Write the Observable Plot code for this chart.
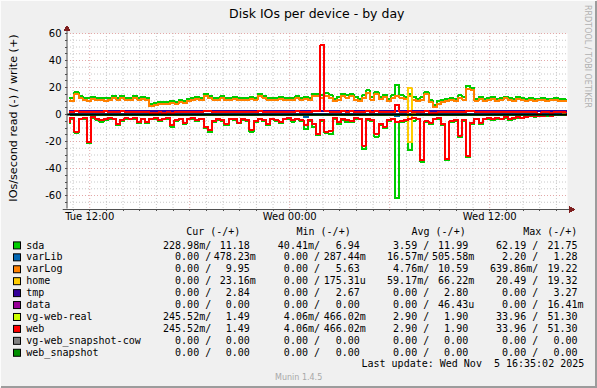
<!DOCTYPE html>
<html><head><meta charset="utf-8">
<script src="https://cdn.jsdelivr.net/npm/d3@7"></script>
<script src="https://cdn.jsdelivr.net/npm/@observablehq/plot@0.6"></script>
<style>
html,body{margin:0;padding:0;background:#F0F0F0;}
#chart{position:relative;width:597px;height:388px;overflow:hidden;background:#F0F0F0;}
#chart svg{display:block;}
#chart svg path{shape-rendering:crispEdges;}
</style></head><body><div id="chart"></div>
<script>
// ---------- data (15-minute samples, first sample Tue 2025-11-04 10:50) ----------
const sampleStart = "2025-11-04T10:50:00Z";
const sampleStepMinutes = 15;

const sdaWrite = [
12.5,12.0,16.5,13.5,12.5,12.0,13.0,12.0,12.5,12.0,
12.0,13.5,12.5,14.0,12.5,12.0,14.0,12.5,13.0,12.0,
7.5,8.5,9.0,9.5,9.0,10.0,9.5,10.5,10.0,11.5,
12.5,13.0,12.0,15.5,14.0,12.5,12.0,13.5,12.0,12.5,
13.0,12.0,12.5,12.0,13.0,12.5,15.5,14.0,12.5,12.0,
12.5,13.0,12.0,12.5,12.0,13.5,12.5,13.0,12.0,15.5,
15.3,14.1,15.8,14.1,11.6,12.8,15.3,14.1,15.3,12.8,
11.6,14.1,17.8,12.8,16.5,13.3,14.8,11.6,14.1,21.75,
14.1,13.3,15.3,12.8,11.6,12.8,16.5,10.4,6.94,9.9,
10.9,11.6,12.3,11.6,14.1,12.8,21.0,20.0,11.6,12.8,
11.6,12.3,12.8,11.6,12.3,13.3,12.3,11.6,12.8,12.3,
11.6,12.3,11.6,11.6,12.3,11.6,11.6,12.3,11.6,11.18];

const sdaRead = [
6.3,3.2,13.8,3.5,3.4,21.2,2.6,3.9,5.5,4.0,
3.3,3.6,8.1,4.5,3.3,3.6,3.2,6.4,3.5,6.2,
3.7,3.0,4.8,3.5,3.2,9.0,4.6,3.6,6.8,3.7,
3.0,4.9,3.6,10.0,13.0,5.6,3.8,4.6,8.1,3.6,
4.3,6.6,3.8,4.6,13.0,5.8,3.6,4.8,7.8,3.5,
4.9,6.2,3.6,3.2,5.2,3.7,4.8,10.6,4.6,9.4,
15.0,4.8,13.8,14.3,3.2,7.0,3.8,5.7,5.8,3.1,
3.7,25.4,3.8,4.9,16.3,7.8,10.1,4.9,3.6,62.19,
5.8,4.6,26.5,4.5,3.7,35.0,5.8,6.9,3.6,3.1,
8.0,34.0,5.8,4.7,16.5,4.8,31.6,6.8,3.6,7.0,
3.6,3.1,4.1,3.0,3.5,2.5,4.0,3.0,2.4,2.9,
1.9,1.3,1.5,1.0,1.2,0.8,0.9,0.6,0.5,0.23];

const varLogWrite = [
10.5,10.0,15.0,12.0,10.5,10.0,11.5,10.5,11.0,10.0,
10.5,12.0,11.0,12.5,11.0,10.5,12.5,11.0,11.5,10.5,
6.0,7.0,7.5,8.0,7.5,8.5,8.0,9.0,8.5,10.0,
11.0,11.5,10.5,14.0,12.5,11.0,10.5,12.0,10.5,11.0,
11.5,10.5,11.0,10.5,11.5,11.0,14.0,12.5,11.0,10.5,
11.0,11.5,10.5,11.0,10.5,12.0,11.0,11.5,10.5,14.0,
13.5,12.5,14.0,12.5,10.0,11.0,13.5,12.5,13.5,11.0,
10.0,12.0,16.0,11.0,15.0,11.5,13.0,10.0,12.0,14.0,
12.5,11.5,14.0,11.0,10.0,11.0,15.0,9.0,5.63,8.0,
9.5,10.0,11.0,10.0,12.5,11.0,19.22,18.5,10.0,11.5,
10.0,11.0,11.5,10.0,11.0,12.0,11.0,10.0,11.5,11.0,
10.0,11.0,10.0,10.5,11.0,10.0,10.5,11.0,10.0,9.95];

const varLogRead = [
0,0,0,0,0,0,0,0,0,0, 0,0,0,0,0,0,0,0,0,0, 0,0,0,0,0,0,0,0,0,0,
0,0,0,0,0,0,0,0,0,0, 0,0,0,0,0,0,0,0,0,0, 0,0,0,0,0,0,0,0,0,0,
0,0,0,0,0,0,0,0,0,0, 0,0,0,0,0,0,0,0,0,0, 0,0,0.64,0,0,0,0,0,0,0,
0,0,0,0,0,0,0,0,0,0, 0,0,0,0,0,0,0,0,0,0, 0,0,0,0,0,0,0,0,0,0];

const webWrite = [
2.0,1.8,2.5,1.9,1.6,2.2,1.8,2.0,1.7,2.3,
1.9,2.1,1.6,2.4,1.8,2.0,1.7,2.2,1.9,1.6,
1.4,1.2,1.5,1.3,1.6,1.4,1.8,1.5,1.7,1.9,
2.0,2.2,1.8,2.6,2.3,1.9,2.0,2.1,1.8,2.0,
2.2,1.8,2.0,1.9,2.1,2.0,2.5,2.2,1.9,2.0,
2.1,2.0,1.8,2.2,1.9,2.3,2.0,2.1,1.9,2.6,
2.4,51.3,2.5,2.2,1.8,2.0,2.4,2.1,2.3,1.9,
1.8,2.2,2.8,1.9,2.5,2.0,2.2,1.8,2.1,7.0,
2.1,2.0,2.3,1.9,1.7,2.0,2.5,1.4,1.2,1.5,
1.7,1.8,1.9,1.8,2.1,1.9,2.9,2.7,1.8,1.9,
1.7,1.8,1.9,1.6,1.8,1.9,1.7,1.6,1.8,1.7,
1.5,1.6,1.5,0.47,1.6,1.5,1.4,1.6,1.5,1.49];

const webRead = [
5.7,2.5,13.0,3.0,2.5,20.5,2.0,3.0,4.4,3.5,
2.5,3.0,7.0,4.0,2.5,3.0,2.5,5.5,3.0,5.5,
3.0,2.5,4.0,3.0,2.5,8.0,4.0,3.0,6.0,3.0,
2.5,4.0,3.0,9.4,11.8,5.0,3.0,4.0,7.0,3.0,
3.5,6.0,3.0,4.0,11.4,5.0,3.0,4.0,7.0,3.0,
4.0,5.5,3.0,2.5,4.4,3.0,4.0,8.0,4.0,7.0,
14.3,4.0,13.0,12.0,2.5,5.7,3.0,4.4,5.0,2.5,
3.0,23.0,3.0,4.0,14.3,7.0,9.0,4.0,3.0,5.7,
5.0,4.0,3.0,2.5,3.0,33.96,5.0,6.0,3.0,2.5,
7.0,33.0,5.0,4.0,15.6,4.0,30.5,6.0,3.0,6.0,
3.0,2.5,3.5,2.5,3.0,2.0,3.5,2.5,2.0,2.5,
1.5,1.0,1.2,0.8,1.0,0.6,0.8,0.5,0.4,0.25];

// vg-web-real carries exactly the same values as web
const vgWebRealWrite = webWrite;
const vgWebRealRead = webRead;

const homeWrite = [
0,0,0,0,0,0,0,0,0,0, 0,0,0,0,0,0,0,0,0,0, 0,0,0,0,0,0,0,0,0,0,
0,0,0,0,0,0,0,0,0,0, 0,0,0,0,0,0,0,0,0,0, 0,0,0,0,0,0,0,0,0,0,
0,0,0,0,0,0,0,0,0,0, 0,0,0,0,0,0,0,0,0,0, 0,0,19.32,0.02,0,0,0,0,0,0,
0,0,0,0,0,0,0,0,0,0, 0,0,0,0,0,0,0,0,0,0, 0,0,0,0,0,0,0,0,0,0.02];
const homeRead = [
0,0,0,0,0,0,0,0,0,0, 0,0,0,0,0,0,0,0,0,0, 0,0,0,0,0,0,0,0,0,0,
0,0,0,0,0,0,0,0,0,0, 0,0,0,0,0,0,0,0,0,0, 0,0,0,0,0,0,0,0,0,0,
0,0,0,0,0,0,0,0,0,0, 0,0,0,0,0,0,0,0,0,0, 0,0,20.49,0,0,0,0,0,0,0,
0,0,0,0,0,0,0,0,0,0, 0,0,0,0,0,0,0,0,0,0, 0,0,0,0,0,0,0,0,0,0];
const varLibRead = [
0,0,0,0,0,0,0,0,0,0, 0,0,0,0,0,0,0,0,0,0, 0,0,0,0,0,0,0,0,0,0,
0,0,0,0,0,0,0,0,0,0, 0,0,0,0,0,0,0,0,0,0, 0,0,0,0,0,0,0,2.2,0,0,
0,0,0,0,0,0,0,0,0,0, 0,0,0,0,0,0,0,0,0,1.0, 0,0,0,0,0,0,0,0,0,0,
0,0,0,0,0,0,0,0,0,0, 0,0,0,0,0,0,0,0,0,0, 0,0,0,0,0,0,0,0,0,0];

// slowly varying fields, sampled every 2 hours
const coarseTimes = ["2025-11-04T10:50:00Z","2025-11-04T12:50:00Z","2025-11-04T14:50:00Z","2025-11-04T16:50:00Z",
  "2025-11-04T18:50:00Z","2025-11-04T20:50:00Z","2025-11-04T22:50:00Z","2025-11-05T00:50:00Z",
  "2025-11-05T02:50:00Z","2025-11-05T04:50:00Z","2025-11-05T06:50:00Z","2025-11-05T08:50:00Z",
  "2025-11-05T10:50:00Z","2025-11-05T12:50:00Z","2025-11-05T14:50:00Z","2025-11-05T16:35:00Z"];
const tmpWrite    = [2.8,2.8,2.7,2.9,2.8,2.8,2.7,2.8,2.9,2.8,2.8,2.8,2.7,2.8,2.9,2.84];
const tmpRead     = [0,0,0,0,0,0,0,0,0,0,0,0,0,0,0,0];
const varLibWrite = [0.5,0.5,0.55,0.5,0.45,0.5,0.5,0.5,0.55,0.5,0.5,0.5,0.5,0.5,0.5,0.48];
const dataWrite   = [0,0,0,0,0,0,0,0,0,0,0,0,0,0,0,0];
const dataRead    = [0,0,0,0,0,0,0,0,0,0,0,0,0,0,0,0];
const cowWrite    = [0,0,0,0,0,0,0,0,0,0,0,0,0,0,0,0];
const cowRead     = [0,0,0,0,0,0,0,0,0,0,0,0,0,0,0,0];
const snapWrite   = [0,0,0,0,0,0,0,0,0,0,0,0,0,0,0,0];
const snapRead    = [0,0,0,0,0,0,0,0,0,0,0,0,0,0,0,0];

// legend
const names  = ["sda","varLib","varLog","home","tmp","data","vg-web-real","web","vg-web_snapshot-cow","web_snapshot"];
const colors = ["#00CC00","#0066B3","#FF8000","#FFCC00","#330099","#990099","#CCFF00","#FF0000","#808080","#008F00"];
const curVals = [["228.98m","11.18"],["0.00","478.23m"],["0.00","9.95"],["0.00","23.16m"],["0.00","2.84"],["0.00","0.00"],["245.52m","1.49"],["245.52m","1.49"],["0.00","0.00"],["0.00","0.00"]];
const minVals = [["40.41m","6.94"],["0.00","287.44m"],["0.00","5.63"],["0.00","175.31u"],["0.00","2.67"],["0.00","0.00"],["4.06m","466.02m"],["4.06m","466.02m"],["0.00","0.00"],["0.00","0.00"]];
const avgVals = [["3.59","11.99"],["16.57m","505.58m"],["4.76m","10.59"],["59.17m","66.22m"],["0.00","2.80"],["0.00","46.43u"],["2.90","1.90"],["2.90","1.90"],["0.00","0.00"],["0.00","0.00"]];
const maxVals = [["62.19","21.75"],["2.20","1.28"],["639.86m","19.22"],["20.49","19.32"],["0.00","3.27"],["0.00","16.41m"],["33.96","51.30"],["33.96","51.30"],["0.00","0.00"],["0.00","0.00"]];
const columnHeaders = ["Cur (-/+)","Min (-/+)","Avg (-/+)","Max (-/+)"];
const yTickLabels = [-60,-40,-20,0,20,40,60];
const xTickLabels = ["2025-11-04T12:00:00Z","2025-11-05T00:00:00Z","2025-11-05T12:00:00Z"];
const titleText = "Disk IOs per device - by day";
const yLabelText = "IOs/second read (-) / write (+)";
const lastUpdate = "Last update: Wed Nov  5 16:35:02 2025";

// ---------- build ----------
const t0 = new Date(sampleStart).getTime();
const fine = (arr) => arr.map((v, i) => ({t: new Date(t0 + i * sampleStepMinutes * 60000), v}));
const coarse = (arr) => arr.map((v, i) => ({t: new Date(coarseTimes[i]), v}));

const xStart = new Date("2025-11-04T10:40:00Z");
const xEnd = new Date("2025-11-05T16:40:00Z");

const fields = [
  {read: fine(sdaRead), write: fine(sdaWrite)},
  {read: fine(varLibRead), write: coarse(varLibWrite)},
  {read: fine(varLogRead), write: fine(varLogWrite)},
  {read: fine(homeRead), write: fine(homeWrite)},
  {read: coarse(tmpRead), write: coarse(tmpWrite)},
  {read: coarse(dataRead), write: coarse(dataWrite)},
  {read: fine(vgWebRealRead), write: fine(vgWebRealWrite)},
  {read: fine(webRead), write: fine(webWrite)},
  {read: coarse(cowRead), write: coarse(cowWrite)},
  {read: coarse(snapRead), write: coarse(snapWrite)}
];

const hours = d3.utcHour.range(xStart, xEnd);
const majorX = hours.filter(d => d.getUTCHours() % 6 === 0);
const minorX = hours.filter(d => d.getUTCHours() % 6 !== 0);
const allY = d3.range(-65, 61, 5);
const majorY = allY.filter(v => v % 20 === 0);
const minorY = allY.filter(v => v % 20 !== 0);

const lineMarks = [];
fields.forEach((f, k) => {
  lineMarks.push(Plot.line(f.read, {x: "t", y: d => -d.v, stroke: colors[k], strokeWidth: 2, curve: "step-before"}));
  lineMarks.push(Plot.line(f.write, {x: "t", y: "v", stroke: colors[k], strokeWidth: 2, curve: "step-before"}));
});

const axisColor = "#505050";
const arrowColor = "#7f1f1f";
const gridGray = "#c8c8c8";
const gridRed = "#e3a8a8";

const chart = Plot.plot({
  width: 597, height: 388,
  marginLeft: 67, marginRight: 30, marginTop: 33, marginBottom: 179.5,
  x: {type: "utc", domain: [xStart, xEnd]},
  y: {domain: [-70, 60]},
  style: {background: "transparent", fontFamily: "DejaVu Sans", fontSize: "10px", color: "black", overflow: "visible"},
  marks: [
    Plot.frame({fill: "white", stroke: null}),
    Plot.ruleX(minorX, {stroke: gridGray, strokeDasharray: "1,2"}),
    Plot.ruleY(minorY, {stroke: gridGray, strokeDasharray: "1,2"}),
    Plot.ruleX(majorX, {stroke: gridRed, strokeDasharray: "1,2"}),
    Plot.ruleY(majorY, {stroke: gridRed, strokeDasharray: "1,2"}),
    ...lineMarks,
    Plot.ruleY([0], {stroke: "black", strokeWidth: 2}),
    // axes
    Plot.axisY(allY, {tickSize: 2, tickFormat: () => "", stroke: axisColor}),
    Plot.axisX(hours, {tickSize: 2, tickFormat: () => "", stroke: axisColor}),
    Plot.axisY(yTickLabels, {tickSize: 0, tickPadding: 6, tickFormat: d => String(d), fill: "black", fontSize: 10, label: null}),
    Plot.axisX(xTickLabels.map(s => new Date(s)), {tickSize: 0, tickPadding: 4, tickFormat: d3.utcFormat("%a %H:%M"), fill: "black", fontSize: 10, label: null}),
    Plot.ruleX([xStart], {y1: -70, y2: 64.2, stroke: axisColor, dx: -0.5}),
    Plot.ruleY([-70], {x1: new Date(xStart.getTime() - 15.5 * 60000), x2: new Date(xEnd.getTime() + 14 * 60000), stroke: axisColor, dy: 0.5}),
    Plot.dot([{x: xStart, y: 63.5}], {x: "x", y: "y", symbol: "triangle", r: 2.6, fill: arrowColor, stroke: null, dx: -0.5}),
    Plot.dot([{x: new Date(xEnd.getTime() + 14 * 60000), y: -70}], {x: "x", y: "y", symbol: "triangle", r: 2.6, fill: arrowColor, stroke: null, rotate: 90, dy: 0.5})
  ]
});

const root = document.getElementById("chart");
root.appendChild(chart);
const svg = d3.select(chart);

// background and 3D border
svg.insert("rect", ":first-child").attr("x", 0).attr("y", 0).attr("width", 597).attr("height", 388).attr("fill", "#F0F0F0");
svg.append("path").attr("d", "M0,387V0H596").attr("stroke", "#FCFCFC").attr("stroke-width", 2).attr("fill", "none");
svg.append("path").attr("d", "M1,387H596V1").attr("stroke", "#9c9c9c").attr("stroke-width", 2).attr("fill", "none");

const tg = svg.append("g").attr("text-anchor", "start");
// title
tg.append("text").attr("x", 316.8).attr("y", 18.3).attr("text-anchor", "middle")
  .attr("font-family", "DejaVu Sans").attr("font-size", 12.5).attr("fill", "black").text(titleText);
// y label
tg.append("text").attr("transform", "translate(16.5,118) rotate(-90)").attr("text-anchor", "middle")
  .attr("font-family", "DejaVu Sans").attr("font-size", 11.2).attr("fill", "black").text(yLabelText);
// rrdtool credit
tg.append("text").attr("transform", "translate(585,5) rotate(90)").attr("text-anchor", "start")
  .attr("font-family", "DejaVu Sans").attr("font-size", 8).attr("fill", "#b0b0b0").text("RRDTOOL / TOBI OETIKER");

// legend
const mono = "DejaVu Sans Mono";
const cw = 6.02;
const cols = [
  {head: 186.2, rEnd: 211.2, wEnd: 255.8, vals: curVals},
  {head: 296.5, rEnd: 320.0, wEnd: 365.8, vals: minVals},
  {head: 411.5, rEnd: 429.2, wEnd: 474.2, vals: avgVals},
  {head: 523.2, rEnd: 538.2, wEnd: 583.5, vals: maxVals}
];
const lg = tg.append("g").attr("font-family", mono).attr("font-size", 10).attr("fill", "black")
  .attr("text-anchor", "start").attr("xml:space", "preserve").style("white-space", "pre");
cols.forEach((c, j) => {
  lg.append("text").attr("x", c.head).attr("y", 234.8).text(columnHeaders[j]);
});
const fmt = (s) => {
  const m = s.match(/^([0-9.]+)([a-zA-Z]?)$/);
  return m[1].padStart(6, " ") + (m[2] || " ");
};
names.forEach((n, k) => {
  const yb = 248.5 + k * 11.93;
  tg.append("rect").attr("x", 13.5).attr("y", yb - 6.6).attr("width", 7).attr("height", 7)
    .attr("fill", colors[k]).attr("stroke", "black").attr("stroke-width", 1);
  lg.append("text").attr("x", 26.3).attr("y", yb).text(n);
  cols.forEach(c => {
    const [r, w] = c.vals[k];
    const rs = fmt(r) + "/";
    const ws = fmt(w);
    lg.append("text").attr("x", c.rEnd - rs.length * cw).attr("y", yb).text(rs);
    lg.append("text").attr("x", c.wEnd - ws.length * cw).attr("y", yb).text(ws);
  });
});
lg.append("text").attr("x", 361.5).attr("y", 367.2).text(lastUpdate);
tg.append("text").attr("x", 275).attr("y", 380).attr("font-family", "DejaVu Sans").attr("font-size", 8)
  .attr("fill", "#a8a8a8").text("Munin 1.4.5");
</script></body></html>
